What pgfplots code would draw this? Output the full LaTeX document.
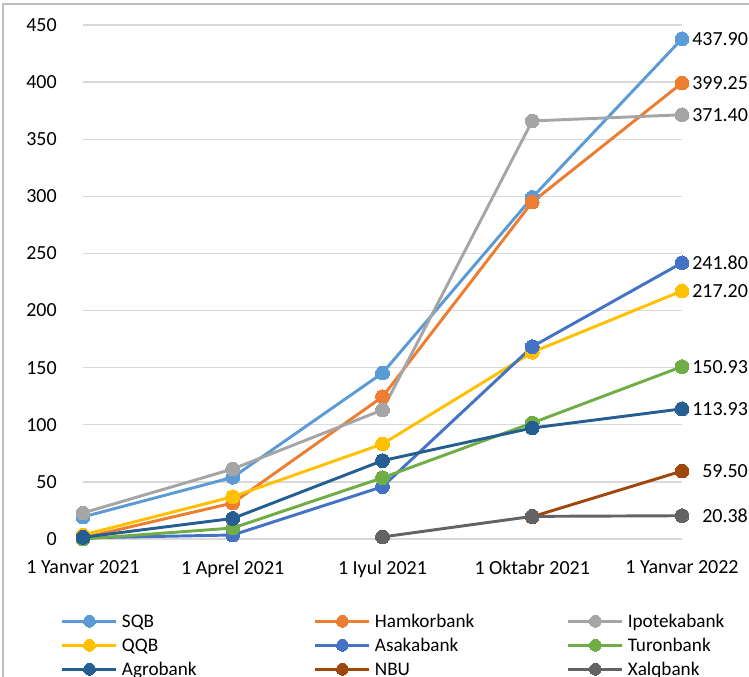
\documentclass[border=0pt]{standalone}
\usepackage{pgfplots}
\pgfplotsset{compat=1.18}
\usepackage{fontspec}
\setmainfont{Carlito}

\definecolor{cSQB}{HTML}{5B9BD5}
\definecolor{cHamkor}{HTML}{ED7D31}
\definecolor{cIpoteka}{HTML}{A5A5A5}
\definecolor{cQQB}{HTML}{FFC000}
\definecolor{cAsaka}{HTML}{4472C4}
\definecolor{cTuron}{HTML}{70AD47}
\definecolor{cAgro}{HTML}{255E91}
\definecolor{cNBU}{HTML}{9E480E}
\definecolor{cXalq}{HTML}{636363}
\definecolor{gridgray}{HTML}{D9D9D9}
\definecolor{framegray}{HTML}{BFBFBF}

\pgfplotsset{
  bank/.style={color=#1, line width=2.2pt, mark=*, mark size=5.2pt,
    mark options={solid, fill=#1, draw=#1, line width=0pt}, line join=round},
}
\newcommand{\lbox}[1]{\makebox[144pt][l]{#1}}

\begin{document}
\begin{tikzpicture}[font=\fontsize{15pt}{18pt}\selectfont]
% 1px = 0.75pt, origin = lower left of the plot area
\useasboundingbox (-62.25pt,-103.5pt) rectangle (499.5pt,404.25pt);
\clip (-62.25pt,-103.5pt) rectangle (499.5pt,404.25pt);
\draw[framegray, line width=1.2pt] (-60pt,-200pt) rectangle (600pt,401.25pt);
\begin{axis}[
  scale only axis,
  width=449.25pt, height=385.5pt,
  xmin=0, xmax=4, ymin=0, ymax=450,
  xtick={0,1,2,3,4},
  xticklabels={1 Yanvar 2021, 1 Aprel 2021, 1 Iyul 2021, 1 Oktabr 2021, 1 Yanvar 2022},
  ytick={0,50,...,450},
  ymajorgrids=true,
  grid style={gridgray, line width=1pt},
  axis line style={draw=none},
  major tick length=0pt,
  tick style={draw=none},
  /pgf/number format/assume math mode=true,
  yticklabel style={anchor=east, inner sep=0pt, xshift=-19.5pt},
  xticklabel style={anchor=north, inner sep=0pt, yshift=-16.3pt},
  clip=false,
  legend columns=3,
  legend cell align=left,
  legend style={draw=none, fill=none, inner sep=0pt, outer sep=0pt,
    at={(axis description cs:-0.0367,-0.1368)}, anchor=north west,
    nodes={inner sep=0pt, text height=14pt, text depth=4pt,
      font=\fontsize{14.4pt}{18pt}\selectfont},
    row sep=0pt,
    /tikz/every odd column/.append style={column sep=3pt}},
  legend image code/.code={
    \draw[mark repeat=2, mark phase=2, #1, mark size=4.4pt] plot coordinates {(0pt,0pt) (20.25pt,0pt) (40.5pt,0pt)};
  },
]
\addplot[bank=cSQB] coordinates {(0,19.3) (1,54) (2,145.3) (3,299) (4,437.90)};
\addlegendentry{\lbox{SQB}}
\addplot[bank=cHamkor] coordinates {(0,1) (1,31.5) (2,124.5) (3,295) (4,399.25)};
\addlegendentry{\lbox{Hamkorbank}}
\addplot[bank=cIpoteka] coordinates {(0,22.8) (1,61.3) (2,113) (3,366) (4,371.40)};
\addlegendentry{\lbox{Ipotekabank}}
\addplot[bank=cQQB] coordinates {(0,3.5) (1,37) (2,83.2) (3,163.5) (4,217.20)};
\addlegendentry{\lbox{QQB}}
\addplot[bank=cAsaka] coordinates {(0,1) (1,3.5) (2,45.8) (3,168.4) (4,241.80)};
\addlegendentry{\lbox{Asakabank}}
\addplot[bank=cTuron] coordinates {(0,0) (1,9.6) (2,53.6) (3,101.6) (4,150.93)};
\addlegendentry{\lbox{Turonbank}}
\addplot[bank=cAgro] coordinates {(0,1.5) (1,18) (2,68.6) (3,97.2) (4,113.93)};
\addlegendentry{\lbox{Agrobank}}
\addplot[bank=cNBU] coordinates {(3,19.5) (4,59.50)};
\addlegendentry{\lbox{NBU}}
\addplot[bank=cXalq] coordinates {(2,1.8) (3,19.8) (4,20.38)};
\addlegendentry{\lbox{Xalqbank}}

\node[anchor=west, inner sep=0pt, xshift=7.5pt] at (axis cs:4,437.90) {437.90};
\node[anchor=west, inner sep=0pt, xshift=7.5pt] at (axis cs:4,399.25) {399.25};
\node[anchor=west, inner sep=0pt, xshift=7.5pt] at (axis cs:4,371.40) {371.40};
\node[anchor=west, inner sep=0pt, xshift=7.5pt] at (axis cs:4,241.80) {241.80};
\node[anchor=west, inner sep=0pt, xshift=7.5pt] at (axis cs:4,217.20) {217.20};
\node[anchor=west, inner sep=0pt, xshift=7.5pt] at (axis cs:4,150.93) {150.93};
\node[anchor=west, inner sep=0pt, xshift=7.5pt] at (axis cs:4,113.93) {113.93};
\node[anchor=west, inner sep=0pt, xshift=15pt] at (axis cs:4,59.50) {59.50};
\node[anchor=west, inner sep=0pt, xshift=15pt] at (axis cs:4,20.38) {20.38};
\end{axis}
\end{tikzpicture}
\end{document}
